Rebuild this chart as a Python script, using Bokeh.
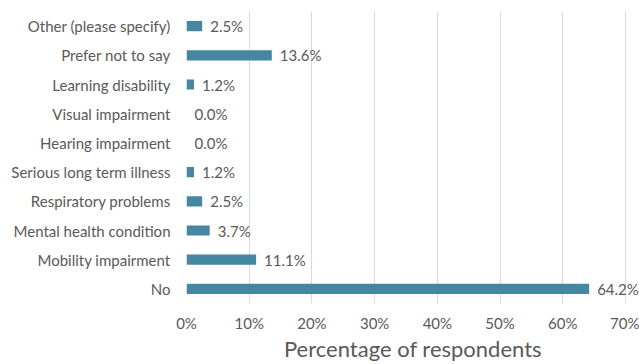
from bokeh.plotting import figure
from bokeh.models import Range1d, NumeralTickFormatter, FixedTicker, ColumnDataSource
from bokeh.core.properties import value
from bokeh.embed import file_html
from bokeh.resources import INLINE

categories = ["No", "Mobility impairment", "Mental health condition", "Respiratory problems",
              "Serious long term illness", "Hearing impairment", "Visual impairment",
              "Learning disability", "Prefer not to say", "Other (please specify)"]
values = [0.642, 0.111, 0.037, 0.025, 0.012, 0.0, 0.0, 0.012, 0.136, 0.025]
labels = ["64.2%", "11.1%", "3.7%", "2.5%", "1.2%", "0.0%", "0.0%", "1.2%", "13.6%", "2.5%"]
x_ticks = [0, 0.1, 0.2, 0.3, 0.4, 0.5, 0.6, 0.7]

FONT = "Lato"
GREY = "#595959"
FS = "15px"

src = ColumnDataSource(dict(cat=categories, val=values, lab=labels))

p = figure(width=639, height=364, y_range=categories, x_range=Range1d(0, 0.7223),
           output_backend="svg", toolbar_location=None,
           min_border_left=186, min_border_right=0, min_border_top=11, min_border_bottom=0)
p.outline_line_color = None
p.background_fill_color = "white"
p.border_fill_color = "white"

p.hbar(y="cat", right="val", height=0.35, source=src, fill_color="#4686A0", line_color=None)
p.text(x="val", y="cat", text="lab", source=src, x_offset=8,
       text_baseline="middle", text_align="left",
       text_font=value(FONT), text_font_size=FS, text_color=GREY)

p.xaxis.ticker = FixedTicker(ticks=x_ticks)
p.xaxis.formatter = NumeralTickFormatter(format="0%")
p.xaxis.axis_line_color = None
p.xaxis.major_tick_line_color = None
p.xaxis.minor_tick_line_color = None
p.xaxis.major_label_standoff = 4
p.xaxis.major_label_text_font = FONT
p.xaxis.major_label_text_font_size = FS
p.xaxis.major_label_text_color = GREY
p.xaxis.axis_label = "Percentage of respondents"
p.xaxis.axis_label_text_font = FONT
p.xaxis.axis_label_text_font_size = "22px"
p.xaxis.axis_label_text_font_style = "normal"
p.xaxis.axis_label_text_color = GREY
p.xaxis.axis_label_standoff = 0

p.yaxis.axis_line_color = None
p.yaxis.major_tick_line_color = None
p.yaxis.minor_tick_line_color = None
p.yaxis.major_label_standoff = 10
p.yaxis.major_label_text_font = FONT
p.yaxis.major_label_text_font_size = FS
p.yaxis.major_label_text_color = GREY

p.xgrid.grid_line_color = "#d9d9d9"
p.ygrid.grid_line_color = None

open("out.html", "w").write(file_html(p, INLINE))
